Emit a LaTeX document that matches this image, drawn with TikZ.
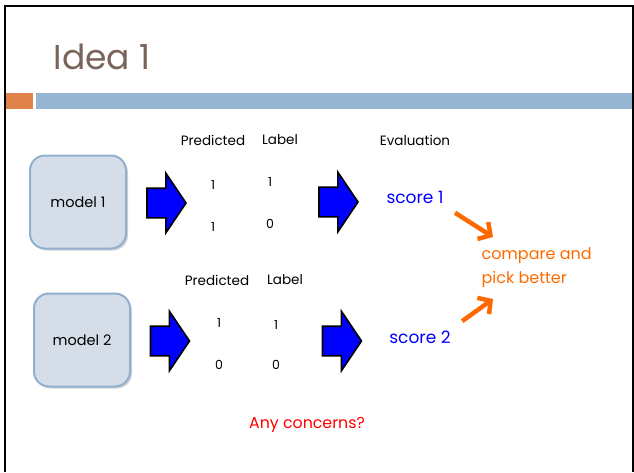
\documentclass[tikz,border=0pt]{standalone}
\usepackage{fontspec}
\setmainfont{Poppins}
\usetikzlibrary{positioning,shapes.arrows,shadows,arrows.meta}

\definecolor{titlebrown}{HTML}{7A6459}
\definecolor{barorange}{HTML}{E0834A}
\definecolor{barblue}{HTML}{95B5D3}
\definecolor{boxfill}{HTML}{D5DEE8}
\definecolor{boxline}{HTML}{8FB0CF}
\definecolor{pickorange}{HTML}{FF6A00}

\tikzset{
  modelbox/.style={draw=boxline, line width=2pt, fill=boxfill, rounded corners=15pt,
    minimum width=96pt, minimum height=93pt, font=\fontsize{14.5}{16}\selectfont,
    drop shadow={opacity=0.35, shadow xshift=2pt, shadow yshift=-2pt}},
  bigarrow/.style={single arrow, draw=black, line width=1.6pt, fill=blue,
    inner xsep=0pt, inner ysep=14pt, minimum height=39pt,
    single arrow head extend=15pt, single arrow tip angle=112},
  small/.style={font=\fontsize{13.5}{15}\selectfont},
  digit/.style={font=\fontsize{12.5}{14}\selectfont},
  score/.style={text=blue, font=\fontsize{17}{19}\selectfont},
  pickarrow/.style={draw=pickorange, line width=4.5pt, -{Straight Barb[length=9pt, width=20pt]}}
}

\begin{document}
\begin{tikzpicture}[x=1pt, y=-1pt]
        \useasboundingbox (0,0) rectangle (634,472);
        % Frame
        \draw[line width=2pt] (5,472) -- (5,6) -- (633,6) -- (633,472);

        % Title and bar
        \node[anchor=base west, text=titlebrown, font=\fontsize{34.5}{38}\selectfont] (title) at (50,69) {Idea 1};
        \fill[barorange] (6,93) rectangle (33,109);
        \fill[barblue] (36,93) rectangle (632,109);

        % Model 1 row
        \node[modelbox] (m1) at (78,202) {model 1};
        \node[bigarrow] (a1) at (161.5,203) {};
        \node[small] (p1) at (213,140) {Predicted};
        \node[small] (l1) at (280,140) {Label};
        \node[digit] (p1a) at (213,185) {1};
        \node[digit] (l1a) at (270,182) {1};
        \node[digit] (p1b) at (213,227) {1};
        \node[digit] (l1b) at (270,224) {0};
        \node[bigarrow] (b1) at (333.5,202) {};
        \node[small] (ev) at (415,140) {Evaluation};
        \node[score] (s1) at (415,197) {score 1};

        % Model 2 row
        \node[modelbox] (m2) at (82,340) {model 2};
        \node[bigarrow] (a2) at (165,341) {};
        \node[small] (p2) at (217,280) {Predicted};
        \node[small] (l2) at (285,280) {Label};
        \node[digit] (p2a) at (219,323) {1};
        \node[digit] (l2a) at (276,325) {1};
        \node[digit] (p2b) at (219,365) {0};
        \node[digit] (l2b) at (276,365) {0};
        \node[bigarrow] (b2) at (337,341) {};
        \node[score] (s2) at (420,337) {score 2};

        % Compare
        \node[text=pickorange, align=left, anchor=west, font=\fontsize{16}{24}\selectfont] (cmp) at (478,268) {compare and\\pick better};
        \coordinate (c1) at (493,237);
        \coordinate (c2) at (493,299);
        \draw[pickarrow] ([shift={(8,6)}]s1.south east) -- (c1);
        \draw[pickarrow] ([shift={(8,-6)}]s2.north east) -- (c2);

        \node[text=red, font=\fontsize{15.8}{18}\selectfont] (q) at (307,425) {Any concerns?};
    \end{tikzpicture}
\end{document}
